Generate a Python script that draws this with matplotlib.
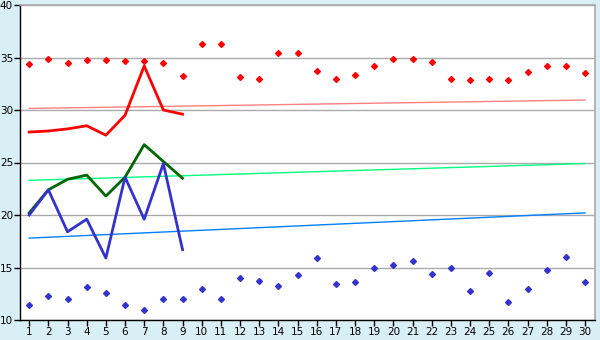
import numpy as np
import matplotlib.pyplot as plt

# x positions (days)
days = list(range(1, 31))

# scatter series
high_pts = [34.4, 34.9, 34.5, 34.8, 34.8, 34.7, 34.7, 34.5, 33.2, 36.3,
            36.3, 33.1, 33.0, 35.4, 35.4, 33.7, 33.0, 33.3, 34.2, 34.9,
            34.9, 34.6, 33.0, 32.9, 33.0, 32.9, 33.6, 34.2, 34.2, 33.5]
low_pts = [11.4, 12.3, 12.0, 13.1, 12.6, 11.4, 11.0, 12.0, 12.0, 13.0,
           12.0, 14.0, 13.7, 13.2, 14.3, 15.9, 13.4, 13.6, 15.0, 15.2,
           15.6, 14.4, 15.0, 12.8, 14.5, 11.7, 13.0, 14.8, 16.0, 13.6]

# line series (first 9 days only)
line_days = days[:9]
red_line = [27.9, 28.0, 28.2, 28.5, 27.6, 29.5, 34.2, 30.0, 29.6]
green_line = [20.2, 22.4, 23.4, 23.8, 21.8, 23.6, 26.7, 25.1, 23.5]
blue_line = [20.0, 22.4, 18.4, 19.6, 15.9, 23.6, 19.6, 24.9, 16.7]

# trend lines (start value at day 1, end value at day 30)
red_trend = [30.15, 30.95]
green_trend = [23.3, 24.9]
blue_trend = [17.8, 20.2]

fig = plt.figure(figsize=(6, 3.4), dpi=100, facecolor='#d9eff6')
ax = fig.add_axes([20 / 600, 20 / 340, 575 / 600, 315 / 340])
ax.set_facecolor('white')

ax.plot([days[0], days[-1]], red_trend, color='#ff8080', linewidth=1)
ax.plot([days[0], days[-1]], green_trend, color='#00ff80', linewidth=1)
ax.plot([days[0], days[-1]], blue_trend, color='#0080ff', linewidth=1)

ax.plot(line_days, red_line, color='#ff0000', linewidth=2)
ax.plot(line_days, green_line, color='#006600', linewidth=2)
ax.plot(line_days, blue_line, color='#3333cc', linewidth=2)

ax.plot(days, high_pts, linestyle='none', marker='D', markersize=3,
        color='#ff0000')
ax.plot(days, low_pts, linestyle='none', marker='D', markersize=3,
        color='#3333cc')

ax.set_xlim(0.52, 30.52)
ax.set_ylim(10, 40)
ax.set_xticks(days)
ax.set_yticks(np.arange(10, 41, 5))
ax.grid(True, axis='y', color='#aaaaaa', linewidth=1)
ax.set_axisbelow(True)

for side in ['top', 'right']:
    ax.spines[side].set_color('#aaaaaa')
    ax.spines[side].set_linewidth(1.2)
for side in ['left', 'bottom']:
    ax.spines[side].set_color('black')
    ax.spines[side].set_linewidth(1)

ax.tick_params(axis='both', direction='out', length=4, width=1,
               labelsize=7.5, pad=1)

plt.savefig('out.png', dpi=100, facecolor=fig.get_facecolor())
plt.close()
